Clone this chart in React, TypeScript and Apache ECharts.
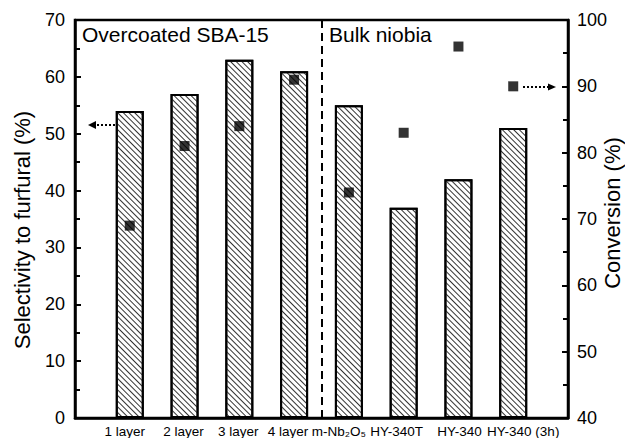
import React, { useEffect, useRef } from "react";
import * as echarts from "echarts";

// Catalyst samples along the x axis
const categories = [
  "1 layer",
  "2 layer",
  "3 layer",
  "4 layer",
  "m-Nb₂O₅",
  "HY-340T",
  "HY-340",
  "HY-340 (3h)",
];
// Selectivity to furfural (%), bars on the left axis
const selectivity = [54, 57, 63, 61, 55, 37, 42, 51];
// Conversion (%), squares on the right axis
const conversion = [69, 81, 84, 91, 74, 83, 96, 90];
// Boundary between the two sample groups
const groupDivider = 4.5;
const leftTicks = [0, 70];
const rightTicks = [40, 100];

// Horizontal nudges (px) for the crowded x labels: [left pad, right pad]
const labelPads: [number, number][] = [
  [0, 10],
  [0, 2],
  [0, 2],
  [0, 12],
  [0, 20],
  [0, 14],
  [2, 0],
  [20, 0],
];

const FONT = "'Liberation Sans', Arial, Helvetica, sans-serif";

export default function App() {
  const ref = useRef<HTMLDivElement>(null);

  useEffect(() => {
    if (!ref.current) return;
    const chart = echarts.init(ref.current, null, { renderer: "svg" });

    const barData = selectivity.map((v, i) => [i + 1, v]);
    const convData = conversion.map((v, i) => [i + 1, v]);

    const rich: Record<string, any> = {};
    labelPads.forEach((p, i) => {
      rich["c" + i] = {
        fontSize: 13.5,
        fontFamily: FONT,
        color: "#000",
        padding: [0, p[1], 0, p[0]],
      };
    });

    const arrowStyle = { stroke: "#000", lineWidth: 2, lineDash: [2, 2] };

    chart.setOption({
      animation: false,
      backgroundColor: "#fff",
      grid: {
        left: 75,
        right: 57,
        top: 20,
        bottom: 20,
        show: true,
        borderColor: "#000",
        borderWidth: 2.5,
        backgroundColor: "transparent",
      },
      xAxis: {
        type: "value",
        min: 0,
        max: categories.length + 1,
        interval: 1,
        splitLine: { show: false },
        axisTick: { show: false },
        axisLine: { show: true, lineStyle: { color: "#000", width: 2.5 } },
        axisLabel: {
          color: "#000",
          fontSize: 13.5,
          fontFamily: FONT,
          margin: 6,
          hideOverlap: false,
          rich,
          formatter: (v: number) => {
            const name = categories[v - 1];
            return name ? `{c${v - 1}|${name}}` : "";
          },
        },
      },
      yAxis: [
        {
          type: "value",
          min: leftTicks[0],
          max: leftTicks[1],
          interval: 10,
          splitLine: { show: false },
          axisLine: { show: true, lineStyle: { color: "#000", width: 2.5 } },
          axisTick: { show: true, inside: true, length: 6, lineStyle: { color: "#000", width: 2 } },
          minorTick: { show: true, splitNumber: 2, length: 5, lineStyle: { color: "#000", width: 2 } },
          axisLabel: { color: "#000", fontSize: 18, fontFamily: FONT, margin: 10 },
        },
        {
          type: "value",
          min: rightTicks[0],
          max: rightTicks[1],
          interval: 10,
          position: "right",
          splitLine: { show: false },
          axisLine: { show: true, lineStyle: { color: "#000", width: 2.5 } },
          axisTick: { show: true, inside: true, length: 6, lineStyle: { color: "#000", width: 2 } },
          minorTick: { show: true, splitNumber: 2, length: 5, lineStyle: { color: "#000", width: 2 } },
          axisLabel: { color: "#000", fontSize: 18, fontFamily: FONT, margin: 9 },
        },
      ],
      series: [
        {
          type: "bar",
          yAxisIndex: 0,
          data: barData,
          barWidth: 28,
          itemStyle: {
            color: "#fff",
            borderColor: "#000",
            borderWidth: 2,
            decal: {
              symbol: "rect",
              symbolSize: 1,
              dashArrayX: [1, 0],
              dashArrayY: [1, 3],
              rotation: Math.PI / 4,
              color: "#333",
              backgroundColor: "#fff",
            },
          },
          markLine: {
            silent: true,
            symbol: "none",
            label: { show: false },
            lineStyle: { color: "#000", type: [8, 5], width: 2 },
            data: [{ xAxis: groupDivider }],
          },
          z: 2,
        },
        {
          type: "scatter",
          yAxisIndex: 1,
          data: convData,
          symbol: "rect",
          symbolSize: 10,
          itemStyle: { color: "#000" },
          z: 3,
        },
      ],
      graphic: [
        {
          type: "text",
          left: 82,
          top: 24,
          style: { text: "Overcoated SBA-15", fontSize: 21, fontFamily: FONT, fill: "#000" },
        },
        {
          type: "text",
          left: 329,
          top: 24,
          style: { text: "Bulk niobia", fontSize: 21, fontFamily: FONT, fill: "#000" },
        },
        {
          type: "text",
          x: 22,
          y: 230,
          rotation: Math.PI / 2,
          style: {
            text: "Selectivity to furfural (%)",
            fontSize: 22,
            fontFamily: FONT,
            fill: "#000",
            align: "center",
            verticalAlign: "middle",
          },
        },
        {
          type: "text",
          x: 612,
          y: 213,
          rotation: Math.PI / 2,
          style: {
            text: "Conversion (%)",
            fontSize: 22,
            fontFamily: FONT,
            fill: "#000",
            align: "center",
            verticalAlign: "middle",
          },
        },
        // arrow pointing to the left axis
        { type: "line", shape: { x1: 123, y1: 125, x2: 95, y2: 125 }, style: arrowStyle },
        { type: "polygon", shape: { points: [[88, 125], [96, 121], [96, 129]] }, style: { fill: "#000" } },
        // arrow pointing to the right axis
        { type: "line", shape: { x1: 523, y1: 87, x2: 549, y2: 87 }, style: arrowStyle },
        { type: "polygon", shape: { points: [[556, 87], [548, 83.5], [548, 90.5]] }, style: { fill: "#000" } },
      ],
    });

    return () => chart.dispose();
  }, []);

  return (
    <div
      ref={ref}
      style={{ position: "fixed", left: 0, top: 0, width: 625, height: 438 }}
    />
  );
}
